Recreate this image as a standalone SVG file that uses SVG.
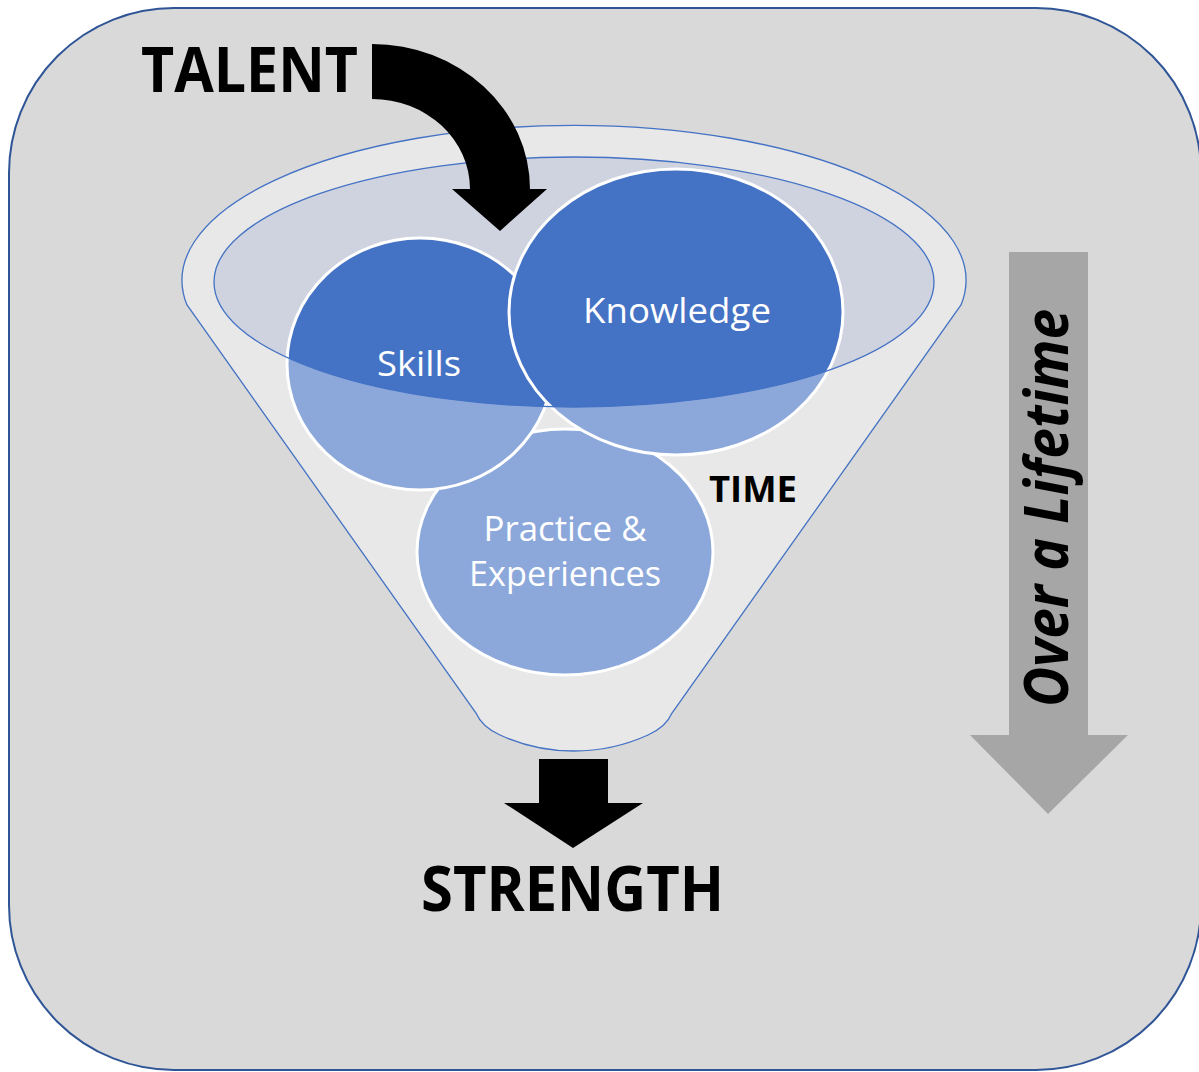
<svg xmlns="http://www.w3.org/2000/svg" width="1199" height="1072" viewBox="0 0 1199 1072">
  <style>
    .bold { font-family: "Open Sans", "Noto Sans", "DejaVu Sans", sans-serif; font-weight: 700; fill: #000; }
    .label { font-family: "Open Sans", "Noto Sans", "DejaVu Sans", sans-serif; font-size: 35px; fill: #fff; text-anchor: middle; }
    .bubble { fill: #4472C4; stroke: #fff; stroke-width: 3; }
    .rim { fill: none; stroke: #4472C4; stroke-width: 1.3; }
  </style>

  <!-- backdrop panel -->
  <rect id="panel" x="9" y="8" width="1192" height="1062" rx="165" ry="165" fill="#D9D9D9" stroke="#2F5597" stroke-width="2"/>

  <!-- funnel mouth (inner ellipse) drawn beneath the bubbles -->
  <g id="funnel-base">
    <ellipse cx="574" cy="282" rx="360" ry="125" fill="#CFD3DF"/>
  </g>

  <!-- bubbles, back to front -->
  <g id="practice">
    <ellipse class="bubble" cx="565" cy="552" rx="148" ry="123"/>
  </g>
  <g id="skills">
    <ellipse class="bubble" cx="420" cy="364" rx="133" ry="126"/>
  </g>
  <g id="knowledge">
    <ellipse class="bubble" cx="676" cy="312" rx="167" ry="143"/>
  </g>

  <!-- funnel body: translucent light wash over everything outside the mouth -->
  <g id="funnel">
    <path d="M187,305 A392,155 0 1 1 961,305 L672,713 Q666,727 648,735 Q613,751 574,751 Q535,751 500,735 Q482,727 476,713 Z
             M214,282 A360,125 0 1 0 934,282 A360,125 0 1 0 214,282 Z"
          fill="#FFFFFF" fill-opacity="0.39" fill-rule="evenodd"/>
    <path class="rim" d="M187,305 A392,155 0 1 1 961,305 L672,713 Q666,727 648,735 Q613,751 574,751 Q535,751 500,735 Q482,727 476,713 Z"/>
    <ellipse class="rim" cx="574" cy="282" rx="360" ry="125"/>
  </g>

  <!-- bubble labels -->
  <g id="labels">
    <text class="label" x="419" y="376" textLength="84" lengthAdjust="spacingAndGlyphs">Skills</text>
    <text class="label" x="677" y="323" textLength="188" lengthAdjust="spacingAndGlyphs">Knowledge</text>
    <text class="label" x="565" y="541" textLength="163" lengthAdjust="spacingAndGlyphs">Practice &amp;</text>
    <text class="label" x="565" y="586" textLength="192" lengthAdjust="spacingAndGlyphs">Experiences</text>
  </g>

  <!-- arrows -->
  <g id="connectors">
    <path id="talent-arrow" d="M372,44 A158,145 0 0 1 530,189 L547,189 L500,231 L452,189 L470,189 A98,90 0 0 0 372,99 Z" fill="#000"/>
    <path id="strength-arrow" d="M539,759 L608,759 L608,803 L643,803 L573,848 L504,803 L539,803 Z" fill="#000"/>
    <path id="lifetime-arrow" d="M1009,252 L1088,252 L1088,735 L1128,735 L1048,814 L970,735 L1009,735 Z" fill="#A6A6A6"/>
  </g>

  <!-- headings -->
  <g id="talent">
    <text class="bold" x="141" y="92" font-size="63" textLength="217" lengthAdjust="spacingAndGlyphs">TALENT</text>
  </g>
  <g id="time">
    <text class="bold" x="709" y="502" font-size="35" textLength="88" lengthAdjust="spacingAndGlyphs">TIME</text>
  </g>
  <g id="strength">
    <text class="bold" x="421" y="911" font-size="63" textLength="303" lengthAdjust="spacingAndGlyphs">STRENGTH</text>
  </g>
  <g id="lifetime">
    <text class="bold" transform="translate(1068,508) rotate(-90)" x="0" y="0" font-size="60" font-style="italic" text-anchor="middle" textLength="398" lengthAdjust="spacingAndGlyphs">Over a Lifetime</text>
  </g>
</svg>
